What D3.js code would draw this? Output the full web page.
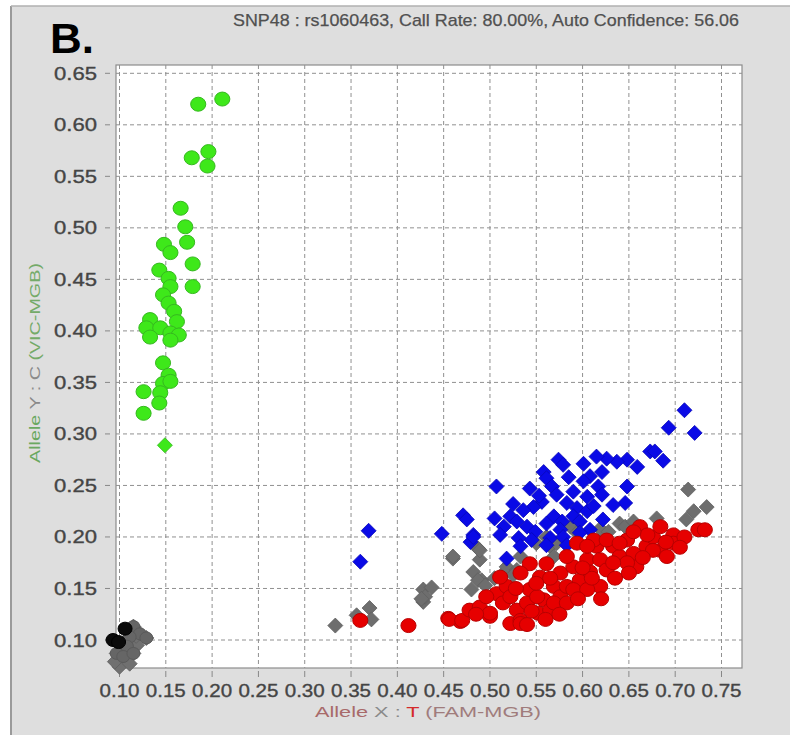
<!DOCTYPE html>
<html>
<head>
<meta charset="utf-8">
<script src="https://cdn.jsdelivr.net/npm/d3@7"></script>
<style>
  body { margin: 0; background: #fff; }
  svg { display: block; }
</style>
</head>
<body>
<div id="chart"></div>
<script>
// genotype calls, [Allele X, Allele Y]
var alleleYCalls = [
  [0.185,0.620],[0.211,0.625],[0.178,0.568],[0.196,0.574],[0.195,0.560],
  [0.166,0.519],[0.171,0.501],[0.173,0.486],[0.148,0.484],[0.155,0.476],
  [0.179,0.465],[0.143,0.459],[0.153,0.451],[0.179,0.443],[0.155,0.443],
  [0.147,0.435],[0.153,0.427],[0.133,0.411],[0.159,0.419],[0.162,0.409],
  [0.129,0.403],[0.144,0.403],[0.155,0.398],[0.164,0.396],[0.133,0.394],
  [0.155,0.391],[0.147,0.369],[0.153,0.357],[0.147,0.349],[0.155,0.351],
  [0.126,0.341],[0.144,0.340],[0.143,0.330],[0.126,0.320]
];
var alleleYOdd = [[0.149,0.289]];

var heteroCalls = [
  [0.710,0.323],[0.693,0.306],[0.721,0.301],[0.673,0.283],[0.678,0.283],
  [0.687,0.274],[0.659,0.268],[0.648,0.275],[0.637,0.273],[0.626,0.276],
  [0.615,0.278],[0.601,0.271],[0.574,0.275],[0.579,0.270],[0.558,0.263],
  [0.561,0.257],[0.621,0.263],[0.608,0.259],[0.601,0.254],[0.648,0.249],
  [0.617,0.249],[0.507,0.249],[0.543,0.247],[0.567,0.249],[0.572,0.241],
  [0.590,0.244],[0.605,0.239],[0.621,0.241],[0.646,0.233],[0.633,0.231],
  [0.556,0.234],[0.547,0.229],[0.583,0.233],[0.594,0.228],[0.536,0.226],
  [0.605,0.225],[0.471,0.221],[0.475,0.217],[0.505,0.218],[0.522,0.220],
  [0.529,0.215],[0.569,0.220],[0.561,0.213],[0.578,0.215],[0.590,0.220],
  [0.597,0.215],[0.622,0.217],[0.515,0.210],[0.540,0.210],[0.549,0.205],
  [0.576,0.207],[0.608,0.207],[0.597,0.204],[0.448,0.203],[0.482,0.202],
  [0.511,0.202],[0.531,0.199],[0.545,0.197],[0.565,0.199],[0.579,0.200],
  [0.479,0.195],[0.533,0.191],[0.518,0.179],[0.561,0.192],[0.583,0.192],
  [0.369,0.206],[0.360,0.176],[0.482,0.200],[0.553,0.240],[0.585,0.258],
  [0.525,0.232],[0.612,0.230]
];

var alleleXCalls = [
  [0.360,0.119],[0.412,0.114],[0.455,0.121],[0.468,0.118],[0.456,0.120],
  [0.470,0.119],[0.478,0.129],[0.489,0.132],[0.500,0.123],[0.507,0.145],
  [0.514,0.136],[0.522,0.116],[0.529,0.129],[0.533,0.119],[0.540,0.136],
  [0.543,0.149],[0.518,0.152],[0.552,0.126],[0.558,0.139],[0.565,0.129],
  [0.554,0.161],[0.569,0.152],[0.576,0.142],[0.561,0.174],[0.576,0.165],
  [0.583,0.152],[0.590,0.171],[0.597,0.158],[0.605,0.178],[0.608,0.166],
  [0.615,0.191],[0.619,0.178],[0.619,0.152],[0.626,0.168],[0.633,0.191],
  [0.640,0.181],[0.648,0.197],[0.655,0.184],[0.658,0.171],[0.662,0.210],
  [0.669,0.191],[0.676,0.200],[0.684,0.210],[0.684,0.187],[0.691,0.181],
  [0.698,0.202],[0.698,0.194],[0.725,0.207],[0.732,0.207],[0.612,0.197],
  [0.626,0.197],[0.640,0.194],[0.594,0.194],[0.605,0.191],[0.583,0.181],
  [0.543,0.174],[0.533,0.165],[0.511,0.161],[0.522,0.142],[0.496,0.142],
  [0.551,0.142],[0.569,0.136],[0.583,0.136],[0.500,0.126],[0.533,0.116],
  [0.590,0.149],[0.605,0.149],[0.648,0.175],[0.676,0.187],[0.633,0.175],
  [0.485,0.125],[0.545,0.128],[0.560,0.120],[0.575,0.125],[0.595,0.140],
  [0.610,0.160],[0.620,0.140],[0.635,0.160],[0.650,0.165],[0.665,0.180],
  [0.690,0.195],[0.710,0.200],[0.705,0.190],[0.670,0.202],[0.655,0.205],
  [0.600,0.170],[0.565,0.160],[0.550,0.155],[0.528,0.150],[0.540,0.115]
];

var undetermined = [
  [0.333,0.114],[0.356,0.124],[0.370,0.131],[0.372,0.120],[0.428,0.149],
  [0.437,0.151],[0.428,0.137],[0.430,0.142],[0.426,0.140],[0.460,0.179],
  [0.487,0.189],[0.489,0.178],[0.482,0.166],[0.491,0.158],[0.480,0.149],
  [0.518,0.168],[0.460,0.181],[0.489,0.187],[0.487,0.158],[0.495,0.153],
  [0.518,0.171],[0.529,0.168],[0.533,0.181],[0.550,0.194],[0.561,0.200],
  [0.565,0.191],[0.569,0.181],[0.572,0.194],[0.587,0.210],[0.594,0.204],
  [0.619,0.208],[0.628,0.205],[0.640,0.213],[0.646,0.210],[0.655,0.215],
  [0.680,0.218],[0.714,0.246],[0.720,0.225],[0.712,0.217],[0.734,0.229],
  [0.525,0.163],[0.505,0.160]
];

var ntcGrey = [
  [0.115,0.113],[0.122,0.106],[0.129,0.102],[0.111,0.103],[0.108,0.094],
  [0.097,0.087],[0.104,0.084],[0.115,0.087],[0.100,0.074],[0.095,0.079],
  [0.119,0.095],[0.111,0.077],[0.118,0.104],[0.103,0.092]
];
var ntcBlack = [[0.106,0.111],[0.093,0.100],[0.099,0.098]];

var xTicks = [0.10,0.15,0.20,0.25,0.30,0.35,0.40,0.45,0.50,0.55,0.60,0.65,0.70,0.75];
var yTicks = [0.10,0.15,0.20,0.25,0.30,0.35,0.40,0.45,0.50,0.55,0.60,0.65];

var titleText = "SNP48 : rs1060463, Call Rate: 80.00%, Auto Confidence: 56.06";

var W = 790, H = 735;
var box = {left: 116, right: 742, top: 65, bottom: 668};

var x = d3.scaleLinear().domain([0.10, 0.75]).range([119.5, 721.5]);
var y = d3.scaleLinear().domain([0.10, 0.65]).range([640, 73.3]);

var svg = d3.select("#chart").append("svg")
    .attr("width", W).attr("height", H);

// grey panel with frame on left/top
svg.append("rect").attr("x", 11).attr("y", 6).attr("width", W - 11).attr("height", H - 6)
    .attr("fill", "#dedede");
svg.append("line").attr("x1", 11).attr("x2", 11).attr("y1", 6).attr("y2", H)
    .attr("stroke", "#9a9a9a").attr("stroke-width", 2);
svg.append("line").attr("x1", 11).attr("x2", W).attr("y1", 6).attr("y2", 6)
    .attr("stroke", "#b0b0b0").attr("stroke-width", 1.5);

svg.append("text").text("B.")
    .attr("x", 50).attr("y", 53)
    .attr("font-family", "Liberation Sans Narrow, Liberation Sans, Arial, sans-serif")
    .attr("font-weight", "bold").attr("font-size", 42)
    .attr("textLength", 44).attr("lengthAdjust", "spacingAndGlyphs")
    .attr("fill", "#000");

svg.append("text").text(titleText)
    .attr("x", 233).attr("y", 26)
    .attr("font-family", "Liberation Sans, Arial, sans-serif")
    .attr("font-size", 17)
    .attr("textLength", 506).attr("lengthAdjust", "spacingAndGlyphs")
    .attr("fill", "#505050").attr("stroke", "#505050").attr("stroke-width", 0.25);

// plot area
svg.append("rect")
    .attr("x", box.left).attr("y", box.top)
    .attr("width", box.right - box.left).attr("height", box.bottom - box.top)
    .attr("fill", "#fff").attr("stroke", "#8c8c8c").attr("stroke-width", 1.2);

var grid = svg.append("g").attr("stroke", "#909090").attr("stroke-width", 1)
    .attr("stroke-dasharray", "4,3");
grid.selectAll(".vx").data(xTicks).enter().append("line")
    .attr("x1", function(d) { return x(d); }).attr("x2", function(d) { return x(d); })
    .attr("y1", box.top).attr("y2", box.bottom);
grid.selectAll(".hy").data(yTicks).enter().append("line")
    .attr("y1", function(d) { return y(d); }).attr("y2", function(d) { return y(d); })
    .attr("x1", box.left).attr("x2", box.right);

// small outside ticks
svg.append("g").selectAll("line").data(xTicks).enter().append("line")
    .attr("x1", function(d) { return x(d); }).attr("x2", function(d) { return x(d); })
    .attr("y1", box.bottom + 3).attr("y2", box.bottom + 9)
    .attr("stroke", "#888");
svg.append("g").selectAll("line").data(yTicks).enter().append("line")
    .attr("y1", function(d) { return y(d); }).attr("y2", function(d) { return y(d); })
    .attr("x1", box.left - 11).attr("x2", box.left - 6)
    .attr("stroke", "#888");

var tickFont = "Liberation Sans, Arial, sans-serif";
svg.append("g").selectAll("text").data(xTicks).enter().append("text")
    .attr("x", function(d) { return x(d); }).attr("y", 697)
    .attr("text-anchor", "middle")
    .attr("font-family", tickFont).attr("font-size", 17.5)
    .attr("textLength", 40).attr("lengthAdjust", "spacingAndGlyphs")
    .attr("fill", "#454545").attr("stroke", "#454545").attr("stroke-width", 0.35)
    .text(function(d) { return d.toFixed(2); });
svg.append("g").selectAll("text").data(yTicks).enter().append("text")
    .attr("x", 97).attr("y", function(d) { return y(d) + 6.5; })
    .attr("text-anchor", "end")
    .attr("font-family", tickFont).attr("font-size", 18)
    .attr("textLength", 43).attr("lengthAdjust", "spacingAndGlyphs")
    .attr("fill", "#454545").attr("stroke", "#454545").attr("stroke-width", 0.35)
    .text(function(d) { return d.toFixed(2); });

// axis titles
var xl = svg.append("text")
    .attr("x", 428).attr("y", 717).attr("text-anchor", "middle")
    .attr("font-family", tickFont).attr("font-size", 14.5)
    .attr("textLength", 226).attr("lengthAdjust", "spacingAndGlyphs");
xl.append("tspan").attr("fill", "#a86a6a").text("Allele");
xl.append("tspan").attr("fill", "#8a8a8a").text(" X : ");
xl.append("tspan").attr("fill", "#d42a2a").text("T");
xl.append("tspan").attr("fill", "#a07c7c").text(" (FAM-MGB)");

var yl = svg.append("text")
    .attr("transform", "translate(40,363) rotate(-90)")
    .attr("text-anchor", "middle")
    .attr("font-family", tickFont).attr("font-size", 15)
    .attr("textLength", 200).attr("lengthAdjust", "spacingAndGlyphs");
yl.append("tspan").attr("fill", "#6aa860").text("Allele");
yl.append("tspan").attr("fill", "#8a8a8a").text(" Y : C ");
yl.append("tspan").attr("fill", "#74aa68").text("(VIC-MGB)");

// marks
var diamond = "M0,-7.5L7.5,0L0,7.5L-7.5,0Z";

function diamonds(data, fill, stroke) {
  svg.append("g").selectAll("path").data(data).enter().append("path")
      .attr("d", diamond)
      .attr("transform", function(d) { return "translate(" + x(d[0]) + "," + y(d[1]) + ")"; })
      .attr("fill", fill).attr("stroke", stroke).attr("stroke-width", 0.8);
}
function circles(data, r, fill, stroke) {
  svg.append("g").selectAll("ellipse").data(data).enter().append("ellipse")
      .attr("cx", function(d) { return x(d[0]); })
      .attr("cy", function(d) { return y(d[1]); })
      .attr("rx", r * 1.08).attr("ry", r)
      .attr("fill", fill).attr("stroke", stroke).attr("stroke-width", 1);
}

diamonds(undetermined, "#6e6e6e", "#606060");
diamonds(heteroCalls, "#0a0ae6", "#0808b8");
circles(alleleXCalls, 7, "#e60000", "#b80000");
circles(alleleYCalls, 7, "#3ee81a", "#36b820");
diamonds(alleleYOdd, "#3ee81a", "#36b820");
diamonds(ntcGrey, "#707070", "#606060");
circles(ntcGrey.slice(0, 8), 6, "#666", "#5a5a5a");
circles(ntcBlack, 6.5, "#0a0a0a", "#000");
</script>
</body>
</html>
